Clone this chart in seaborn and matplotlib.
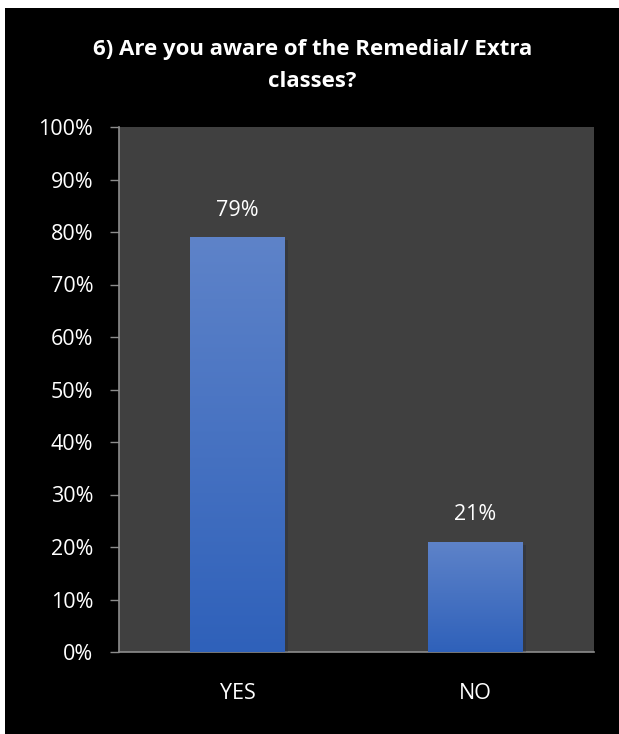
import numpy as np
import pandas as pd
import seaborn as sns
import matplotlib.pyplot as plt
from matplotlib.patches import Rectangle
from matplotlib import patheffects as pe
from matplotlib.colors import LinearSegmentedColormap

# data
answers = ["YES", "NO"]
percent = [79, 21]
title = "6) Are you aware of the Remedial/ Extra\nclasses?"

df = pd.DataFrame({"answer": answers, "percent": percent})

sns.set_style("dark")
plt.rcParams["font.family"] = ["Open Sans", "DejaVu Sans"]

fig = plt.figure(figsize=(6.19, 7.34), dpi=100, facecolor="black")
# thin white strips on top/left like the source screenshot
fig.patches.append(Rectangle((0, 1 - 8 / 734), 1, 8 / 734, transform=fig.transFigure,
                             facecolor="white", edgecolor="none", zorder=-10))
fig.patches.append(Rectangle((0, 0), 5 / 619, 1, transform=fig.transFigure,
                             facecolor="white", edgecolor="none", zorder=-10))

ax = fig.add_axes([119 / 619, 1 - 652 / 734, 475 / 619, 525 / 734])
ax.set_facecolor("#404040")

sns.barplot(data=df, x="answer", y="percent", color="#4572c4", width=0.4,
            saturation=1, linewidth=0, edgecolor="none", ax=ax, zorder=3)

# vertical gradient on bars
cmap = LinearSegmentedColormap.from_list("bar", ["#2f61ba", "#5e83c9"])
grad = np.linspace(0, 1, 256).reshape(-1, 1)
for bar in ax.patches:
    bar.set_path_effects([pe.SimplePatchShadow(offset=(2, -2), alpha=0.25), pe.Normal()])
    x0, y0 = bar.get_x(), bar.get_y()
    w, h = bar.get_width(), bar.get_height()
    im = ax.imshow(grad, cmap=cmap, aspect="auto", origin="lower",
                   extent=(x0, x0 + w, y0, y0 + h), zorder=4)
    im.set_clip_path(bar)

ax.set_xlim(-0.5, 1.5)
ax.set_ylim(0, 100)
ax.set_yticks(range(0, 101, 10))
ax.set_yticklabels([f"{v}%" for v in range(0, 101, 10)])

ax.bar_label(ax.containers[0], labels=[f"{v}%" for v in percent],
             padding=12, color="white", fontsize=15.5, zorder=5)

ax.set_xlabel("")
ax.set_ylabel("")
ax.grid(False)
ax.tick_params(axis="y", colors="#8c8c8c", labelcolor="white", labelsize=15.5,
               length=6.5, width=1, direction="out", pad=12, left=True)
ax.tick_params(axis="x", labelcolor="white", labelsize=15.5, length=0, pad=22)

for side in ["top", "right"]:
    ax.spines[side].set_visible(False)
for side in ["left", "bottom"]:
    ax.spines[side].set_visible(True)
    ax.spines[side].set_color("#8c8c8c")
    ax.spines[side].set_linewidth(1.2)

fig.suptitle(title, x=0.505, y=0.947, color="white", fontsize=16,
             fontweight="bold", linespacing=1.7, va="top")

fig.savefig("out.png", dpi=100, facecolor=fig.get_facecolor())
